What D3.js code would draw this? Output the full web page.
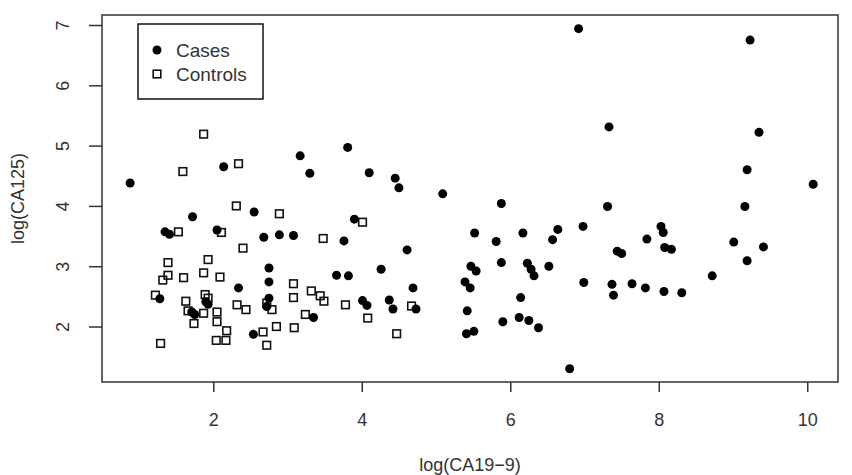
<!DOCTYPE html>
<html>
<head>
<meta charset="utf-8">
<script src="https://cdn.jsdelivr.net/npm/d3@7"></script>
<style>
  body { margin: 0; background: #fff; }
  text { font-family: "Liberation Sans", Arial, sans-serif; fill: #333; }
</style>
</head>
<body>
<script>
/* Cases (filled circles): log(CA19-9), log(CA125) */
var casesX = [0.88, 1.72, 1.35, 1.41, 2.05, 2.14, 2.55, 2.68, 2.89, 3.08,
  3.17, 3.30, 3.81, 3.76, 3.90, 4.10, 4.45, 4.50, 5.09, 5.88,
  6.92, 9.23, 7.33, 9.35, 9.19, 10.08, 7.31, 9.16, 6.98, 8.03,
  8.06, 7.84, 7.44, 7.50, 8.08, 8.17, 9.01, 9.41, 9.19, 8.72,
  6.99, 7.37, 7.39, 7.64, 7.82, 8.07, 8.31, 5.52, 5.81, 6.17,
  6.64, 6.57, 4.61, 4.26, 3.66, 3.82, 5.47, 5.54, 5.88, 6.23,
  6.28, 6.32, 6.52, 5.39, 5.46, 4.69, 6.14, 4.01, 4.07, 4.37,
  4.42, 4.73, 5.42, 5.90, 6.12, 6.25, 6.38, 5.41, 5.51, 6.80,
  2.75, 2.75, 2.34, 1.28, 1.90, 1.93, 2.75, 2.72, 1.75, 1.71,
  3.35, 2.54];
var casesY = [4.38, 3.82, 3.57, 3.53, 3.60, 4.65, 3.90, 3.48, 3.52, 3.51,
  4.83, 4.54, 4.97, 3.42, 3.78, 4.55, 4.46, 4.30, 4.20, 4.04,
  6.94, 6.75, 5.31, 5.22, 4.60, 4.36, 3.99, 3.99, 3.66, 3.66,
  3.56, 3.45, 3.25, 3.21, 3.31, 3.28, 3.40, 3.32, 3.09, 2.84,
  2.73, 2.70, 2.52, 2.71, 2.64, 2.58, 2.56, 3.55, 3.41, 3.55,
  3.61, 3.44, 3.27, 2.95, 2.85, 2.84, 3.00, 2.92, 3.06, 3.05,
  2.95, 2.84, 3.00, 2.74, 2.64, 2.64, 2.48, 2.43, 2.35, 2.44,
  2.29, 2.29, 2.26, 2.08, 2.15, 2.10, 1.98, 1.88, 1.92, 1.30,
  2.97, 2.74, 2.64, 2.46, 2.41, 2.37, 2.47, 2.33, 2.20, 2.24,
  2.15, 1.87];

/* Controls (open squares) */
var controlsX = [1.87, 1.59, 2.34, 2.31, 2.89, 1.53, 2.11, 3.48, 4.01, 2.40,
  1.39, 1.93, 1.39, 1.32, 1.60, 1.87, 2.09, 3.08, 1.22, 1.89,
  1.93, 1.63, 1.66, 1.87, 2.05, 1.74, 2.05, 2.18, 2.04, 2.17,
  1.29, 2.32, 2.44, 2.72, 2.79, 3.08, 3.32, 3.44, 3.49, 3.78,
  3.24, 2.85, 3.09, 2.67, 2.72, 4.67, 4.08, 4.47];
var controlsY = [5.19, 4.57, 4.70, 4.00, 3.87, 3.57, 3.56, 3.46, 3.73, 3.30,
  3.06, 3.11, 2.85, 2.77, 2.81, 2.89, 2.82, 2.71, 2.52, 2.53,
  2.47, 2.42, 2.26, 2.22, 2.24, 2.05, 2.08, 1.93, 1.77, 1.77,
  1.72, 2.36, 2.28, 2.39, 2.28, 2.48, 2.59, 2.51, 2.42, 2.36,
  2.20, 2.00, 1.98, 1.91, 1.69, 2.34, 2.14, 1.88];

var xTicks = [2, 4, 6, 8, 10];
var yTicks = [2, 3, 4, 5, 6, 7];
var legendLabels = ["Cases", "Controls"];

var width = 852, height = 475;
var plotLeft = 102, plotRight = 838, plotTop = 15, plotBottom = 382;

var svg = d3.select("body").append("svg")
    .attr("width", width)
    .attr("height", height);

var x = d3.scaleLinear().domain([0.501, 10.414]).range([plotLeft, plotRight]);
var y = d3.scaleLinear().domain([1.080, 7.166]).range([plotBottom, plotTop]);

/* axes */
var xAxis = svg.append("g")
    .attr("transform", "translate(0," + plotBottom + ")")
    .call(d3.axisBottom(x).tickValues(xTicks).tickFormat(d3.format("d")).tickSize(10));
xAxis.select(".domain").remove();
xAxis.selectAll("line").attr("stroke", "#333").attr("stroke-width", 1.5);
xAxis.selectAll("text").style("font-size", "18px").attr("y", 38).attr("dy", "0.35em");

var yAxis = svg.append("g")
    .attr("transform", "translate(" + plotLeft + ",0)")
    .call(d3.axisLeft(y).tickValues(yTicks).tickFormat(d3.format("d")).tickSize(13));
yAxis.select(".domain").remove();
yAxis.selectAll("line").attr("stroke", "#333").attr("stroke-width", 1.5);
yAxis.selectAll("text")
    .style("font-size", "18px")
    .attr("transform", "rotate(-90)")
    .attr("x", 0).attr("y", -39).attr("dy", "0.35em")
    .attr("text-anchor", "middle");

/* plot box */
svg.append("rect")
    .attr("x", plotLeft).attr("y", plotTop)
    .attr("width", plotRight - plotLeft).attr("height", plotBottom - plotTop)
    .attr("fill", "none").attr("stroke", "#333").attr("stroke-width", 1.5);

/* axis titles */
svg.append("text")
    .attr("x", (plotLeft + plotRight) / 2).attr("y", 465)
    .attr("text-anchor", "middle").attr("dy", "0.35em")
    .style("font-size", "18px")
    .text("log(CA19\u22129)");

svg.append("text")
    .attr("transform", "translate(18," + (plotTop + plotBottom) / 2 + ") rotate(-90)")
    .attr("text-anchor", "middle").attr("dy", "0.35em")
    .style("font-size", "18px")
    .text("log(CA125)");

/* points */
var cases = casesX.map(function(d, i) { return {x: d, y: casesY[i]}; });
var controls = controlsX.map(function(d, i) { return {x: d, y: controlsY[i]}; });

svg.selectAll(".control")
    .data(controls)
  .enter().append("rect")
    .attr("class", "control")
    .attr("x", function(d) { return x(d.x) - 3.8; })
    .attr("y", function(d) { return y(d.y) - 3.8; })
    .attr("width", 7.6).attr("height", 7.6)
    .attr("fill", "none").attr("stroke", "#111").attr("stroke-width", 1.6);

svg.selectAll(".case")
    .data(cases)
  .enter().append("circle")
    .attr("class", "case")
    .attr("cx", function(d) { return x(d.x); })
    .attr("cy", function(d) { return y(d.y); })
    .attr("r", 4.5)
    .attr("fill", "#000");

/* legend */
var legend = svg.append("g").attr("transform", "translate(138,24)");
legend.append("rect")
    .attr("width", 125).attr("height", 75)
    .attr("fill", "#fff").attr("stroke", "#111").attr("stroke-width", 1.5);
legend.append("circle").attr("cx", 19).attr("cy", 26).attr("r", 4.5).attr("fill", "#000");
legend.append("rect")
    .attr("x", 19 - 3.8).attr("y", 50 - 3.8).attr("width", 7.6).attr("height", 7.6)
    .attr("fill", "none").attr("stroke", "#111").attr("stroke-width", 1.6);
legend.selectAll(".lab")
    .data(legendLabels)
  .enter().append("text")
    .attr("class", "lab")
    .attr("x", 38)
    .attr("y", function(d, i) { return 26 + i * 24; })
    .attr("dy", "0.35em")
    .style("font-size", "19px")
    .text(function(d) { return d; });
</script>
</body>
</html>
